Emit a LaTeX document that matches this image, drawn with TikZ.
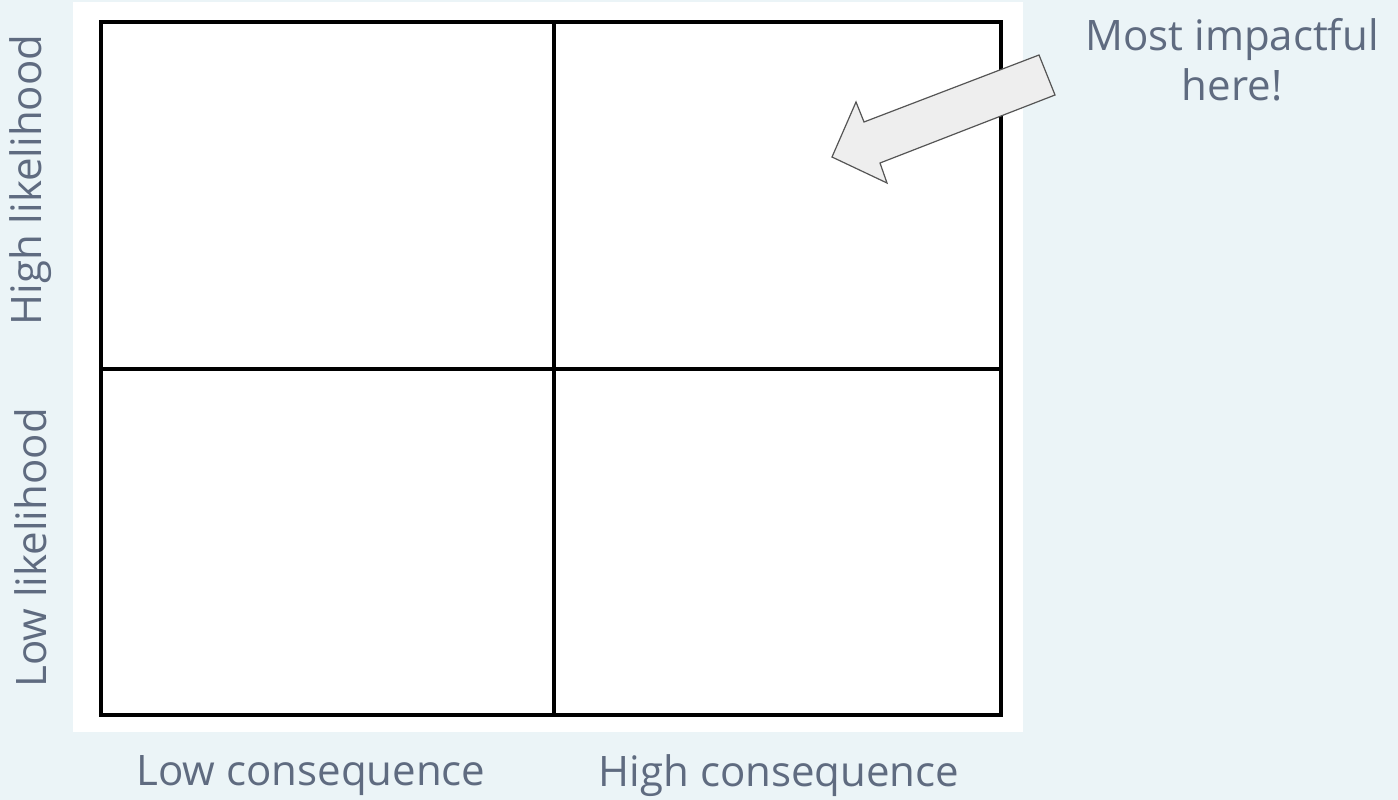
\documentclass[tikz,border=0pt]{standalone}
\usepackage{fontspec}
\setmainfont{Open Sans}
\definecolor{bgc}{HTML}{EBF4F7}
\definecolor{txt}{HTML}{5F6B80}
\definecolor{arrf}{HTML}{EEEEEE}
\definecolor{arrd}{HTML}{555555}
\begin{document}
\begin{tikzpicture}[x=1pt,y=-1pt,
  lbl/.style={text=txt,font=\fontsize{42}{48}\selectfont,inner sep=0pt},
  cell/.style={draw=black,line width=3.3pt}]
\fill[bgc] (0,0) rectangle (1398,800);
\useasboundingbox (0,0) rectangle (1398,800);
\fill[white] (73,2) rectangle (1023,732);
\draw[cell] (101,22) rectangle (1001,715);
\draw[cell] (554,22) -- (554,715);
\draw[cell] (101,369) -- (1001,369);
\fill[arrf,draw=arrd,line width=1.2pt,line join=miter]
  (832,157) -- (856,102) -- (864,122) -- (1039,55) -- (1055,95) -- (880,163) -- (887,183) -- cycle;
\node[lbl,rotate=90] (hl) at (31,180) {High likelihood};
\node[lbl,rotate=90] (ll) at (31,548) {Low likelihood};
\node[lbl] (lc) at (311,776) {Low consequence};
\node[lbl] (hc) at (779,776) {High consequence};
\node[lbl,align=center,font=\fontsize{42}{50}\selectfont] (mi) at (1232,60) {Most impactful\\here!};
\end{tikzpicture}
\end{document}
